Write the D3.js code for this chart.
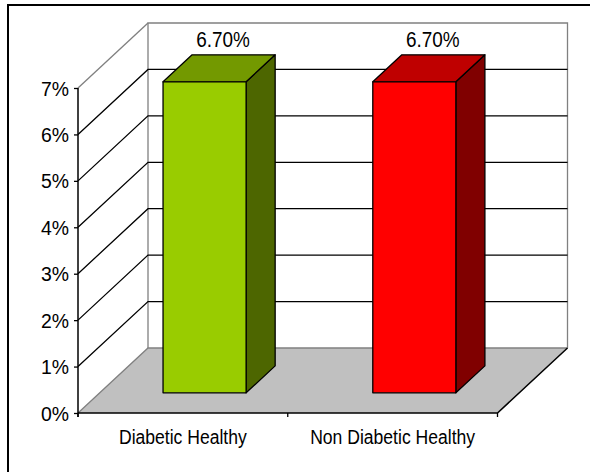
<!DOCTYPE html>
<html>
<head>
<meta charset="utf-8">
<script src="https://cdn.jsdelivr.net/npm/d3@7"></script>
<style>
  html, body { margin: 0; padding: 0; background: #fff; }
  svg { display: block; }
  text { font-family: "Liberation Sans", Arial, sans-serif; fill: #000; }
</style>
</head>
<body>
<svg id="chart" width="590" height="472"></svg>
<script>
// Chart data
const categories = ["Diabetic Healthy", "Non Diabetic Healthy"];
const values = [6.7, 6.7];
const valueLabels = ["6.70%", "6.70%"];
const yTicks = [0, 1, 2, 3, 4, 5, 6, 7];
const frontColors = ["#99cc00", "#ff0000"];
const topColors = ["#739900", "#bf0000"];
const sideColors = ["#4d6600", "#800000"];

const svg = d3.select("#chart");

// Plot geometry: front plane of the 3D box and its depth offset
const plot = { left: 78, right: 497.5, bottom: 413, top: 88 };
const depth = { dx: 70, dy: -65 };
const barDepth = { f1: 0.31, f2: 0.725 };
const barFrac = 0.396;

const x = d3.scaleBand().domain(categories).range([plot.left, plot.right]).padding(0);
const y = d3.scaleLinear().domain([0, 7]).range([plot.bottom, plot.top]);

// Project a point (front x, value, depth fraction) onto the page
const P = (px, v, f) => [px + f * depth.dx, y(v) + f * depth.dy];
const poly = pts => "M" + pts.map(p => p.join(",")).join("L") + "Z";

// Outer frame
svg.append("rect")
  .attr("x", 8).attr("y", 5).attr("width", 620).attr("height", 520)
  .attr("fill", "none").attr("stroke", "#000").attr("stroke-width", 2);

const g = svg.append("g");
const yMax = d3.max(yTicks);

// Back wall edges (grey)
g.append("path")
  .attr("d", "M" + P(plot.left, 0, 1).join(",") + "L" + P(plot.left, yMax, 1).join(",") +
             "L" + P(plot.right, yMax, 1).join(",") + "L" + P(plot.right, 0, 1).join(","))
  .attr("fill", "none").attr("stroke", "#808080").attr("stroke-width", 1.3);

// Top edge of side wall (grey)
g.append("line")
  .attr("x1", P(plot.left, yMax, 0)[0]).attr("y1", P(plot.left, yMax, 0)[1])
  .attr("x2", P(plot.left, yMax, 1)[0]).attr("y2", P(plot.left, yMax, 1)[1])
  .attr("stroke", "#808080").attr("stroke-width", 1.3);

// Gridlines on side and back walls
const inner = yTicks.filter(v => v > 0 && v < yMax);
g.selectAll(".grid").data(inner).join("path")
  .attr("class", "grid")
  .attr("d", v => "M" + P(plot.left, v, 0).join(",") + "L" + P(plot.left, v, 1).join(",") +
                  "L" + P(plot.right, v, 1).join(","))
  .attr("fill", "none").attr("stroke", "#000").attr("stroke-width", 1.3);

// Floor
g.append("path")
  .attr("d", poly([P(plot.left, 0, 0), P(plot.right, 0, 0), P(plot.right, 0, 1), P(plot.left, 0, 1)]))
  .attr("fill", "#c0c0c0").attr("stroke", "none");
g.append("path")
  .attr("d", "M" + P(plot.left, 0, 0).join(",") + "L" + P(plot.left, 0, 1).join(",") +
             "L" + P(plot.right, 0, 1).join(","))
  .attr("fill", "none").attr("stroke", "#808080").attr("stroke-width", 1.3);
g.append("path")
  .attr("d", "M" + P(plot.left, 0, 0).join(",") + "L" + P(plot.right, 0, 0).join(",") +
             "L" + P(plot.right, 0, 1).join(","))
  .attr("fill", "none").attr("stroke", "#000").attr("stroke-width", 1.5);

// Category boundary ticks under the floor front edge
const bounds = categories.map(c => x(c)).concat([plot.right]);
g.selectAll(".ctick").data(bounds).join("line")
  .attr("x1", d => d).attr("x2", d => d)
  .attr("y1", plot.bottom).attr("y2", plot.bottom + 4)
  .attr("stroke", "#000").attr("stroke-width", 1.3);

// Bars
const bars = g.selectAll(".bar").data(categories.map((c, i) => ({ c, v: values[i], i })))
  .join("g").attr("class", "bar");

bars.each(function(d) {
  const bw = x.bandwidth() * barFrac;
  const x0 = x(d.c) + (x.bandwidth() - bw) / 2;
  const x1 = x0 + bw;
  const s = d3.select(this);
  const stroke = { stroke: "#000", "stroke-width": 1.3, "stroke-linejoin": "round" };
  const add = (pts, fill) => {
    const p = s.append("path").attr("d", poly(pts)).attr("fill", fill);
    Object.entries(stroke).forEach(([k, v]) => p.attr(k, v));
  };
  // side face
  add([P(x1, 0, barDepth.f1), P(x1, 0, barDepth.f2), P(x1, d.v, barDepth.f2), P(x1, d.v, barDepth.f1)], sideColors[d.i]);
  // top face
  add([P(x0, d.v, barDepth.f1), P(x1, d.v, barDepth.f1), P(x1, d.v, barDepth.f2), P(x0, d.v, barDepth.f2)], topColors[d.i]);
  // front face
  add([P(x0, 0, barDepth.f1), P(x1, 0, barDepth.f1), P(x1, d.v, barDepth.f1), P(x0, d.v, barDepth.f1)], frontColors[d.i]);

  // value label above the bar
  const cx = (x0 + x1) / 2 + (barDepth.f1 + barDepth.f2) / 2 * depth.dx;
  const topY = P(x0, d.v, barDepth.f2)[1];
  const t = s.append("text")
    .attr("x", cx + 4).attr("y", topY - 8)
    .attr("text-anchor", "middle")
    .attr("font-size", 22)
    .text(valueLabels[d.i]);
  squeeze(t, 0.86);
});

// Category labels
const cl = g.selectAll(".clabel").data(categories).join("text")
  .attr("class", "clabel")
  .attr("x", d => x(d) + x.bandwidth() / 2)
  .attr("y", 444)
  .attr("text-anchor", "middle")
  .attr("font-size", 19.5)
  .text(d => d);
cl.each(function() { squeeze(d3.select(this), 0.9); });

// Vertical value axis on the front-left edge
const axis = d3.axisLeft(y).tickValues(yTicks).tickFormat(d => d + "%").tickSize(4).tickSizeOuter(0).tickPadding(5);
const ax = g.append("g").attr("transform", `translate(${plot.left},0)`).call(axis);
ax.select(".domain").attr("stroke", "#000").attr("stroke-width", 1.5)
  .attr("d", `M0,${plot.bottom + 4}V${plot.top}`);
ax.selectAll(".tick line").attr("stroke", "#000").attr("stroke-width", 1.3);
ax.selectAll(".tick text")
  .attr("font-family", "Liberation Sans, Arial, sans-serif")
  .attr("font-size", 20).attr("fill", "#000")
  .attr("dy", "0.35em");
ax.selectAll(".tick text").each(function() { squeeze(d3.select(this), 0.97); });

// Narrow a text element horizontally while keeping its height
function squeeze(sel, k) {
  const node = sel.node();
  const w = node.getComputedTextLength();
  sel.attr("textLength", w * k).attr("lengthAdjust", "spacingAndGlyphs");
}
</script>
</body>
</html>
